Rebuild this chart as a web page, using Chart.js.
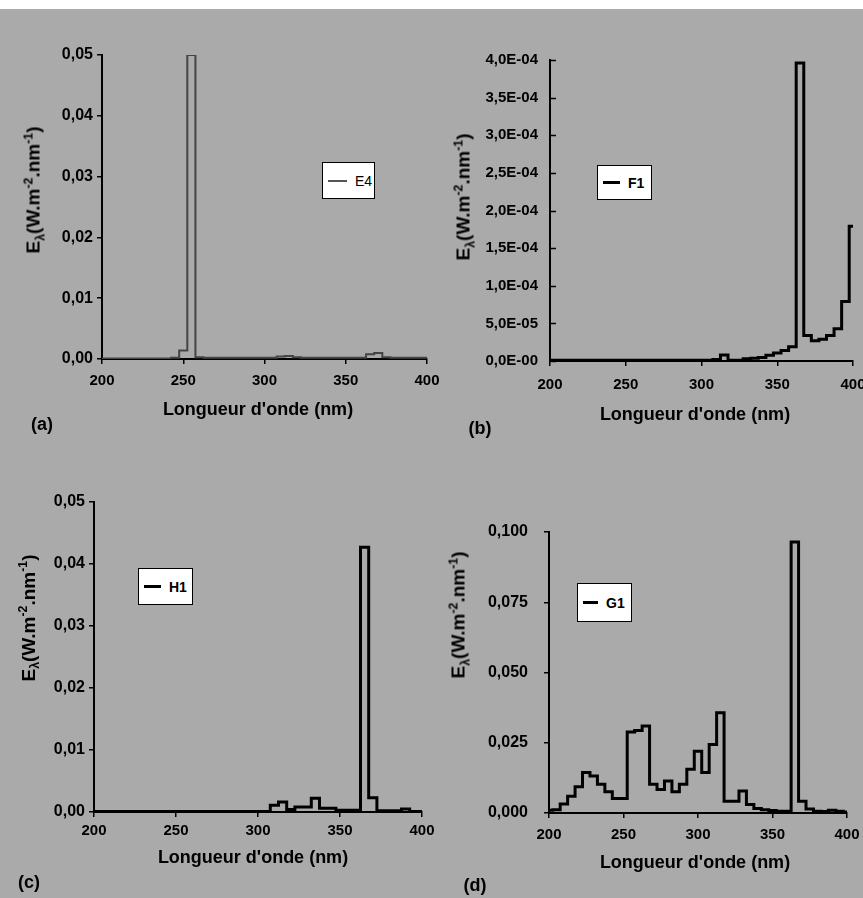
<!DOCTYPE html>
<html lang="fr">
<head>
<meta charset="utf-8">
<script src="https://cdn.jsdelivr.net/npm/chart.js@4/dist/chart.umd.min.js"></script>
<style>
  body { margin: 0; width: 863px; height: 898px; position: relative; overflow: hidden;
         background: #aaaaaa; font-family: 'Liberation Sans', Arial, sans-serif; color: #000; }
  .bande { position: absolute; left: 0; top: 0; width: 863px; height: 9px; background: #fff; }
  canvas { position: absolute; }
  .txt { position: absolute; white-space: nowrap; font-weight: bold; line-height: 1;
         transform: translate(-50%, -50%); }
  .ytitre { position: absolute; white-space: nowrap; font-weight: bold; font-size: 19px; line-height: 1;
            transform: translate(-50%, -50%) rotate(-90deg); }
  .ytitre sub, .ytitre sup { font-size: 0.65em; line-height: 0; }
  .legende { position: absolute; background: #fff; border: 1px solid #000; box-sizing: border-box;
             display: flex; align-items: center; font-weight: bold; font-size: 14px; }
  .legende span { display: inline-block; margin: 0 8px 0 5px; }
</style>
</head>
<body>
<div class="bande"></div>

<canvas id="chartA" width="450" height="440" style="left:0;top:0"></canvas>
<canvas id="chartB" width="433" height="440" style="left:430px;top:0"></canvas>
<canvas id="chartC" width="440" height="458" style="left:0;top:440px"></canvas>
<canvas id="chartD" width="433" height="458" style="left:430px;top:440px"></canvas>

<!-- titres des axes -->
<div class="ytitre" style="left:33px;top:190px">E<sub>λ</sub>(W.m<sup>-2</sup>.nm<sup>-1</sup>)</div>
<div class="ytitre" style="left:463px;top:197px">E<sub>λ</sub>(W.m<sup>-2</sup>.nm<sup>-1</sup>)</div>
<div class="ytitre" style="left:28px;top:618px">E<sub>λ</sub>(W.m<sup>-2</sup>.nm<sup>-1</sup>)</div>
<div class="ytitre" style="left:458px;top:615px">E<sub>λ</sub>(W.m<sup>-2</sup>.nm<sup>-1</sup>)</div>

<div class="txt" style="left:258px;top:409px;font-size:18px">Longueur d'onde (nm)</div>
<div class="txt" style="left:695px;top:414px;font-size:18px">Longueur d'onde (nm)</div>
<div class="txt" style="left:253px;top:857px;font-size:18px">Longueur d'onde (nm)</div>
<div class="txt" style="left:695px;top:862px;font-size:18px">Longueur d'onde (nm)</div>

<div class="txt" style="left:42px;top:424px;font-size:18px">(a)</div>
<div class="txt" style="left:480px;top:428px;font-size:18px">(b)</div>
<div class="txt" style="left:29px;top:882px;font-size:18px">(c)</div>
<div class="txt" style="left:475px;top:885px;font-size:18px">(d)</div>

<!-- légendes -->
<div class="legende" style="left:322px;top:162px;width:53px;height:37px;font-weight:normal">
  <span style="width:19px;height:2px;background:#555"></span>E4</div>
<div class="legende" style="left:597px;top:165px;width:55px;height:35px">
  <span style="width:17px;height:3px;background:#000"></span>F1</div>
<div class="legende" style="left:138px;top:568px;width:55px;height:37px">
  <span style="width:17px;height:3px;background:#000"></span>H1</div>
<div class="legende" style="left:577px;top:583px;width:55px;height:39px">
  <span style="width:15px;height:3px;background:#000"></span>G1</div>

<script>
// Longueurs d'onde (nm), centre de chaque intervalle de 5 nm
const longueurs = [200, 205, 210, 215, 220, 225, 230, 235, 240, 245,
                   250, 255, 260, 265, 270, 275, 280, 285, 290, 295,
                   300, 305, 310, 315, 320, 325, 330, 335, 340, 345,
                   350, 355, 360, 365, 370, 375, 380, 385, 390, 395, 400];

// (a) E4
const valeursE4 = [0.0001, 0.0001, 0.0001, 0.0001, 0.0001, 0.0001, 0.0001, 0.0001, 0.0001, 0.0002,
                   0.0014, 0.0500, 0.0003, 0.0002, 0.0002, 0.0002, 0.0002, 0.0002, 0.0002, 0.0002,
                   0.0002, 0.0002, 0.0004, 0.0005, 0.0003, 0.0002, 0.0002, 0.0002, 0.0002, 0.0002,
                   0.0002, 0.0002, 0.0002, 0.0008, 0.0010, 0.0003, 0.0002, 0.0002, 0.0002, 0.0002, 0.0002];

// (b) F1
const valeursF1 = [1e-6, 1e-6, 1e-6, 1e-6, 1e-6, 1e-6, 1e-6, 1e-6, 1e-6, 1e-6,
                   1e-6, 1e-6, 1e-6, 1e-6, 1e-6, 1e-6, 1e-6, 1e-6, 1e-6, 1e-6,
                   1e-6, 1e-6, 2e-6, 8e-6, 1e-6, 1e-6, 3e-6, 3.5e-6, 4.5e-6, 7.5e-6,
                   1.05e-5, 1.4e-5, 1.9e-5, 3.96e-4, 3.4e-5, 2.7e-5, 2.9e-5, 3.4e-5, 4.3e-5, 7.9e-5, 1.79e-4];

// (c) H1
const valeursH1 = [0.0001, 0.0001, 0.0001, 0.0001, 0.0001, 0.0001, 0.0001, 0.0001, 0.0001, 0.0001,
                   0.0001, 0.0001, 0.0001, 0.0001, 0.0001, 0.0001, 0.0001, 0.0001, 0.0001, 0.0001,
                   0.0001, 0.0001, 0.0011, 0.0016, 0.0004, 0.0008, 0.0008, 0.0022, 0.0006, 0.0006,
                   0.0003, 0.0003, 0.0003, 0.0427, 0.0023, 0.0002, 0.0002, 0.0002, 0.0005, 0.0001, 0.0001];

// (d) G1
const valeursG1 = [0.0010, 0.0012, 0.0032, 0.0060, 0.0093, 0.0144, 0.0132, 0.0102, 0.0076, 0.0052,
                   0.0052, 0.0288, 0.0294, 0.0310, 0.0102, 0.0084, 0.0114, 0.0076, 0.0102, 0.0156,
                   0.0220, 0.0144, 0.0244, 0.0357, 0.0042, 0.0042, 0.0078, 0.0030, 0.0016, 0.0012,
                   0.0009, 0.0006, 0.0006, 0.0964, 0.0042, 0.0014, 0.0006, 0.0005, 0.0010, 0.0006, 0.0004];

// Graduations
const ticksX = [200, 250, 300, 350, 400];
const ticksY5 = [0, 0.01, 0.02, 0.03, 0.04, 0.05];
const labelsY5 = ['0,00', '0,01', '0,02', '0,03', '0,04', '0,05'];
const ticksYF = [0, 5e-5, 1e-4, 1.5e-4, 2e-4, 2.5e-4, 3e-4, 3.5e-4, 4e-4];
const labelsYF = ['0,0E-00', '5,0E-05', '1,0E-04', '1,5E-04', '2,0E-04', '2,5E-04', '3,0E-04', '3,5E-04', '4,0E-04'];
const ticksYG = [0, 0.025, 0.05, 0.075, 0.1];
const labelsYG = ['0,000', '0,025', '0,050', '0,075', '0,100'];

const famille = "'Liberation Sans', Arial, sans-serif";
const policeX = { family: famille, size: 15, weight: 'bold' };
const policeY = { family: famille, size: 16, weight: 'bold' };
const policeYF = { family: famille, size: 15, weight: 'bold' };

// petits traits de graduation à l'intérieur (graphe b)
const traitsInterieurs = {
  id: 'traitsInterieurs',
  afterDraw(chart) {
    const y = chart.scales.y, ctx = chart.ctx, x0 = chart.chartArea.left;
    ctx.save();
    ctx.strokeStyle = '#000';
    ctx.lineWidth = 1.5;
    y.ticks.forEach(t => {
      const py = Math.round(y.getPixelForValue(t.value)) + 0.5;
      ctx.beginPath();
      ctx.moveTo(x0, py);
      ctx.lineTo(x0 + 6, py);
      ctx.stroke();
    });
    ctx.restore();
  }
};

function tracer(id, valeurs, cfg) {
  new Chart(document.getElementById(id), {
    type: 'line',
    data: {
      datasets: [{
        data: longueurs.map((x, i) => ({ x, y: valeurs[i] })),
        borderColor: cfg.couleur || '#000',
        borderWidth: cfg.epaisseur || 3,
        stepped: 'middle',
        pointRadius: 0,
        fill: false
      }]
    },
    options: {
      responsive: false,
      animation: false,
      devicePixelRatio: 1,
      layout: { padding: cfg.padding },
      plugins: { legend: { display: false }, tooltip: { enabled: false } },
      scales: {
        x: {
          type: 'linear', min: 200, max: 400,
          afterBuildTicks: s => { s.ticks = ticksX.map(v => ({ value: v })); },
          afterFit: s => { s.height = 30; s.paddingLeft = 0; s.paddingRight = 0; },
          ticks: { font: policeX, color: '#000', padding: cfg.padX, maxRotation: 0,
                   callback: v => String(v) },
          grid: { drawOnChartArea: false, color: '#000', lineWidth: 1.5, tickLength: 5 },
          border: { color: '#000', width: 2 }
        },
        y: {
          min: cfg.ticksY[0], max: cfg.ticksY[cfg.ticksY.length - 1],
          afterBuildTicks: s => { s.ticks = cfg.ticksY.map(v => ({ value: v })); },
          afterFit: s => { s.width = cfg.largeurY; s.paddingTop = 0; s.paddingBottom = 0; },
          ticks: { font: cfg.policeY || policeY, color: '#000', padding: cfg.padY,
                   callback: (v, i) => cfg.labelsY[i] },
          grid: { drawOnChartArea: false, drawTicks: !cfg.interieur, color: '#000',
                  lineWidth: 1.5, tickLength: 5 },
          border: { color: '#000', width: 2 }
        }
      }
    },
    plugins: cfg.interieur ? [traitsInterieurs] : []
  });
}

tracer('chartA', valeursE4, {
  couleur: '#444', epaisseur: 2,
  padding: { left: 0, top: 55, right: 23, bottom: 51 },
  largeurY: 102, ticksY: ticksY5, labelsY: labelsY5, padX: 8, padY: 4
});
tracer('chartB', valeursF1, {
  padding: { left: 0, top: 60, right: 10, bottom: 49 },
  largeurY: 120, ticksY: ticksYF, labelsY: labelsYF, policeY: policeYF,
  padX: 10, padY: 12, interieur: true
});
tracer('chartC', valeursH1, {
  padding: { left: 0, top: 62, right: 18, bottom: 56 },
  largeurY: 94, ticksY: ticksY5, labelsY: labelsY5, padX: 5, padY: 4
});
tracer('chartD', valeursG1, {
  padding: { left: 0, top: 92, right: 16, bottom: 55 },
  largeurY: 119, ticksY: ticksYG, labelsY: labelsYG, padX: 8, padY: 16
});
</script>
</body>
</html>
